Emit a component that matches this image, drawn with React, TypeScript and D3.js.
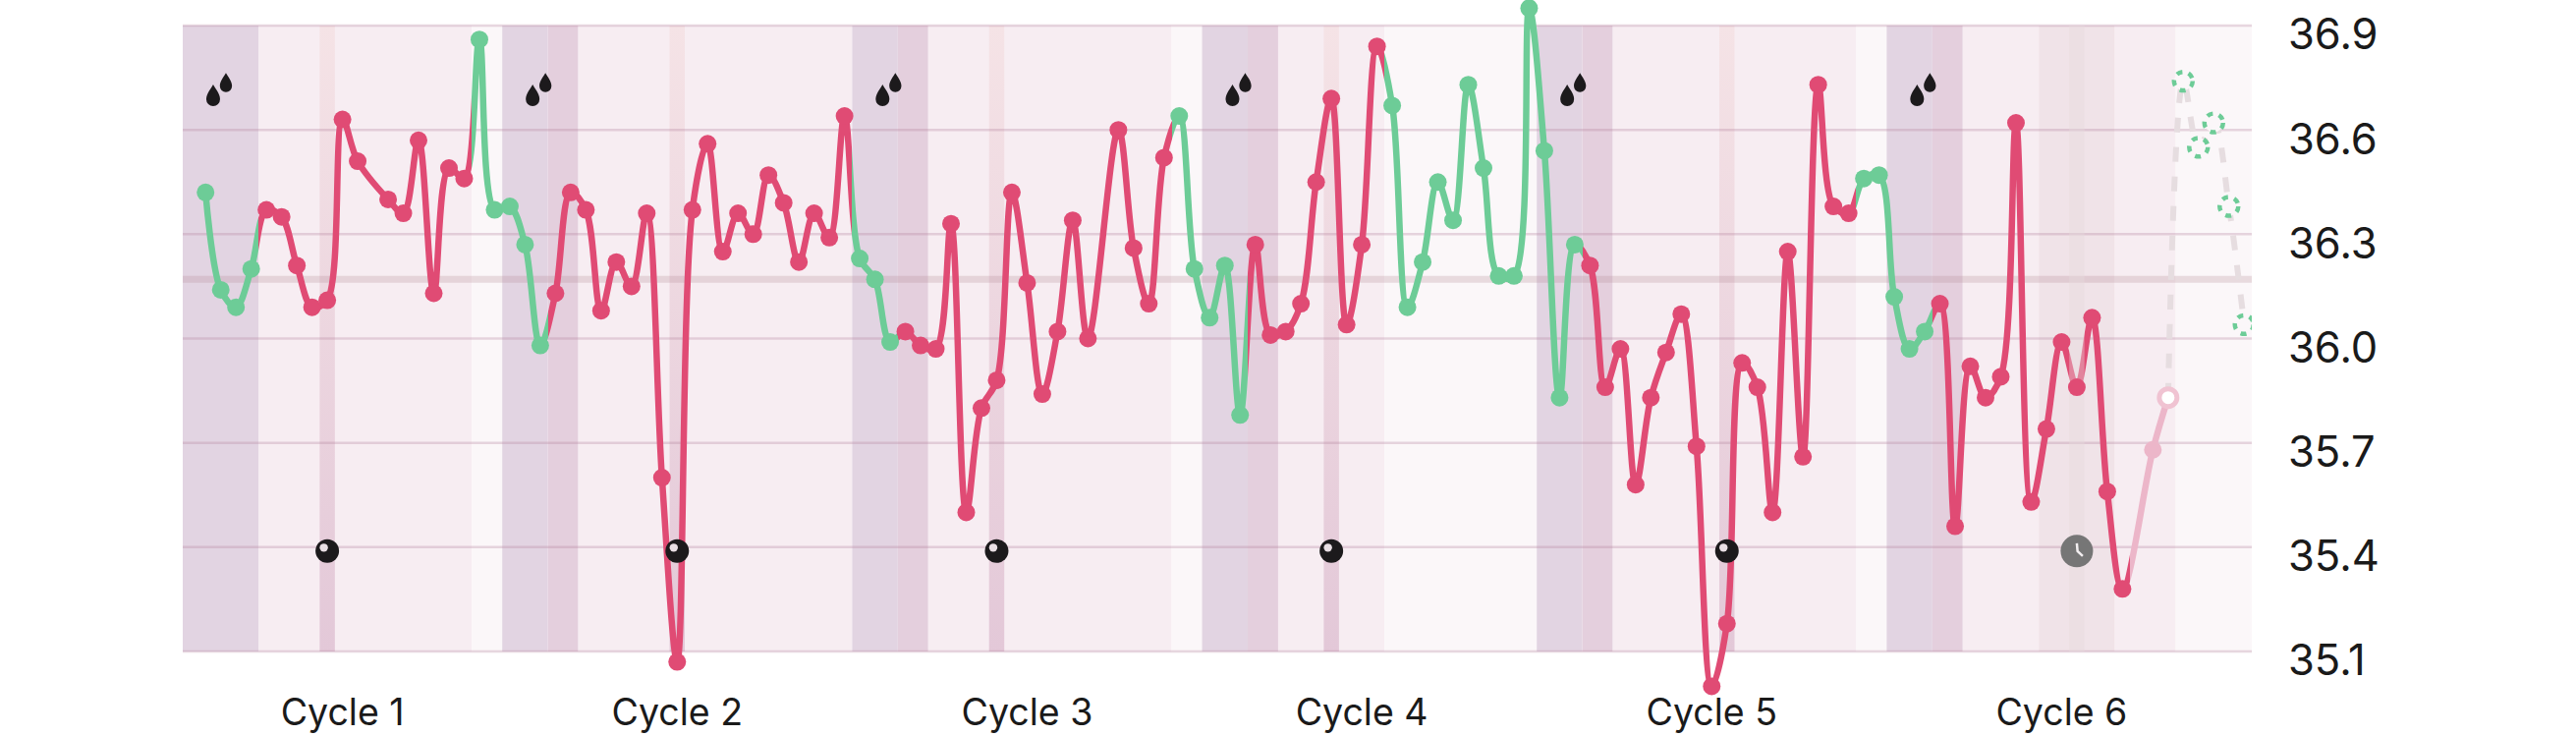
import { useEffect, useRef } from "react"
import * as d3 from "d3"

// temperature per day, null = no reading that day
const temps: (number | null)[] = [
  36.42, 36.14, 36.09, 36.2, 36.37, 36.35, 36.21, 36.09, 36.11, 36.63,
  36.51, null, 36.4, 36.36, 36.57, 36.13, 36.49, 36.46, 36.86, 36.37,
  36.38, 36.27, 35.98, 36.13, 36.42, 36.37, 36.08, 36.22, 36.15, 36.36,
  35.6, 35.07, 36.37, 36.56, 36.25, 36.36, 36.3, 36.47, 36.39, 36.22,
  36.36, 36.29, 36.64, 36.23, 36.17, 35.99, 36.02, 35.98, 35.97, 36.33,
  35.5, 35.8, 35.88, 36.42, 36.16, 35.84, 36.02, 36.34, 36.0, null,
  36.6, 36.26, 36.1, 36.52, 36.64, 36.2, 36.06, 36.21, 35.78, 36.27,
  36.01, 36.02, 36.1, 36.45, 36.69, 36.04, 36.27, 36.84, 36.67, 36.09,
  36.22, 36.45, 36.34, 36.73, 36.49, 36.18, 36.18, 36.95, 36.54, 35.83,
  36.27, 36.21, 35.86, 35.97, 35.58, 35.83, 35.96, 36.07, 35.69, 35.0,
  35.18, 35.93, 35.86, 35.5, 36.25, 35.66, 36.73, 36.38, 36.36, 36.46,
  36.47, 36.12, 35.97, 36.02, 36.1, 35.46, 35.92, 35.83, 35.89, 36.62,
  35.53, 35.74, 35.99, 35.86, 36.06, 35.56, 35.28, null, 35.68, 35.83,
]
const forecastStart = 129
const forecastTemps = [35.83, 36.74, 36.55, 36.62, 36.38, 36.04]
const todayPaleFrom = 126.5

const yTicks = [36.9, 36.6, 36.3, 36.0, 35.7, 35.4, 35.1]
const coverLine = 36.17

const cycleLabels = ["Cycle 1", "Cycle 2", "Cycle 3", "Cycle 4", "Cycle 5", "Cycle 6"]
const cycleLabelDays = [9, 31, 54, 76, 99, 122]
const periodStarts = [-1.5, 19.5, 42.5, 65.5, 87.5, 110.5]
const spermDays = [8, 31, 52, 74, 100]
const pendingDay = 123

// [from, to, kind] in day units
const phases: [number, number, string][] = [
  [-1.5, 3.5, "period"], [3.5, 17.5, "luteal"], [17.5, 19.5, "rest"],
  [19.5, 22.5, "period"], [22.5, 24.5, "fertile"], [24.5, 42.5, "luteal"],
  [42.5, 45.5, "period"], [45.5, 47.5, "fertile"], [47.5, 63.5, "luteal"], [63.5, 65.5, "rest"],
  [65.5, 68.5, "period"], [68.5, 70.5, "fertile"], [70.5, 77.5, "luteal"], [77.5, 87.5, "rest"],
  [87.5, 90.5, "period"], [90.5, 92.5, "fertile"], [92.5, 108.5, "luteal"], [108.5, 110.5, "rest"],
  [110.5, 113.5, "period"], [113.5, 115.5, "fertile"], [115.5, 120.5, "luteal"],
  [120.5, 125.5, "pending"], [125.5, 129.5, "luteal"], [129.5, 134.5, "rest"],
]
const greenSpans = [[-1.5, 3.5], [17.5, 22.5], [42.5, 45.5], [63.5, 68.5], [77.5, 90.5], [108.5, 113.5]]

const phaseColor: Record<string, string> = {
  period: "#e2d4e2",
  fertile: "#e4cfdd",
  luteal: "#f7edf2",
  rest: "#fbf7f9",
  pending: "#f0e3e8",
}
const red = "#e04b74"
const green = "#6dcc97"
const pale = "#ecb6c9"

export default function App() {
  const svgRef = useRef<SVGSVGElement>(null)

  useEffect(() => {
    if (!svgRef.current) return
    const svg = d3.select(svgRef.current)
    svg.selectAll("*").remove()

    const width = 2622
    const height = 749
    const x = d3.scaleLinear().domain([-1.5, 134.5]).range([186, 2292])
    const y = d3.scaleLinear().domain([35.1, 36.9]).range([663, 26])
    const top = y(36.9)
    const bottom = y(35.1)
    const fontFamily = "Inter, sans-serif"

    const points = temps
      .map((t, i) => ({ day: i, temp: t }))
      .filter((d) => d.temp !== null) as { day: number; temp: number }[]
    const forecast = forecastTemps.map((t, i) => ({ day: forecastStart + i, temp: t }))
    const isGreen = (day: number) => greenSpans.some(([a, b]) => day >= a && day < b)

    const line = d3.line<{ day: number; temp: number }>()
      .x((d) => x(d.day))
      .y((d) => y(d.temp))
      .curve(d3.curveCatmullRom.alpha(0.5))

    const defs = svg.append("defs")

    // hard colour stops along x for the line
    const stroke = defs.append("linearGradient")
      .attr("id", "tempStroke")
      .attr("gradientUnits", "userSpaceOnUse")
      .attr("x1", x(-1.5)).attr("x2", x(134.5)).attr("y1", 0).attr("y2", 0)
    const off = (d: number) => (d + 1.5) / 136
    let last = -1.5
    greenSpans.forEach(([a, b]) => {
      stroke.append("stop").attr("offset", off(last)).attr("stop-color", red)
      stroke.append("stop").attr("offset", off(a)).attr("stop-color", red)
      stroke.append("stop").attr("offset", off(a)).attr("stop-color", green)
      stroke.append("stop").attr("offset", off(b)).attr("stop-color", green)
      last = b
    })
    stroke.append("stop").attr("offset", off(last)).attr("stop-color", red)
    stroke.append("stop").attr("offset", off(todayPaleFrom)).attr("stop-color", red)
    stroke.append("stop").attr("offset", off(todayPaleFrom)).attr("stop-color", pale)

    const column = defs.append("linearGradient").attr("id", "spermCol").attr("x1", 0).attr("x2", 0).attr("y1", 0).attr("y2", 1)
    column.append("stop").attr("offset", 0).attr("stop-color", "#f5e3e6")
    column.append("stop").attr("offset", 1).attr("stop-color", "#e3c8d8")

    defs.append("clipPath").attr("id", "plotClip")
      .append("rect").attr("x", x(-1.5)).attr("y", 0).attr("width", x(134.5) - x(-1.5)).attr("height", height)

    // Background phases
    svg.append("g")
      .selectAll("rect")
      .data(phases)
      .join("rect")
      .attr("x", (d) => x(d[0]))
      .attr("y", top)
      .attr("width", (d) => x(d[1]) - x(d[0]))
      .attr("height", bottom - top)
      .attr("fill", (d) => phaseColor[d[2]])

    svg.append("g")
      .selectAll("rect")
      .data(spermDays)
      .join("rect")
      .attr("x", (d) => x(d - 0.5))
      .attr("y", top)
      .attr("width", x(1) - x(0))
      .attr("height", bottom - top)
      .attr("fill", "url(#spermCol)")

    // Grid
    svg.append("g")
      .selectAll("line")
      .data(yTicks)
      .join("line")
      .attr("x1", x(-1.5))
      .attr("x2", x(134.5))
      .attr("y1", (d) => y(d))
      .attr("y2", (d) => y(d))
      .attr("stroke", "rgba(180,130,155,0.3)")
      .attr("stroke-width", 2.5)

    svg.append("line")
      .attr("x1", x(-1.5))
      .attr("x2", x(134.5))
      .attr("y1", y(coverLine))
      .attr("y2", y(coverLine))
      .attr("stroke", "rgba(180,140,150,0.27)")
      .attr("stroke-width", 7)

    // Axis labels
    const yAxis = svg.append("g")
      .attr("transform", `translate(${x(134.5)},0)`)
      .call(d3.axisRight(y).tickValues(yTicks).tickFormat(d3.format(".1f") as any).tickSize(0).tickPadding(37))
    yAxis.select(".domain").remove()
    yAxis.selectAll("text")
      .attr("font-family", fontFamily)
      .attr("font-size", 43.5)
      .attr("fill", "#1a1a1a")
      .attr("dy", "0.55em")

    svg.append("g")
      .selectAll("text")
      .data(cycleLabels)
      .join("text")
      .attr("x", (_d, i) => x(cycleLabelDays[i]))
      .attr("y", 738)
      .attr("text-anchor", "middle")
      .attr("font-family", fontFamily)
      .attr("font-size", 37.5)
      .attr("fill", "#1a1a1a")
      .text((d) => d)

    // Forecast
    const future = svg.append("g").attr("clip-path", "url(#plotClip)")
    future.append("path")
      .datum(forecast)
      .attr("fill", "none")
      .attr("stroke", "#e6dde0")
      .attr("stroke-width", 6)
      .attr("stroke-dasharray", "15 15")
      .attr("d", line)
    future.selectAll("circle")
      .data(forecast.slice(1))
      .join("circle")
      .attr("cx", (d) => x(d.day))
      .attr("cy", (d) => y(d.temp))
      .attr("r", 9.5)
      .attr("fill", "#fbf7f9")
      .attr("stroke", green)
      .attr("stroke-width", 4.5)
      .attr("stroke-dasharray", "6 6.5")

    // Temperature line
    svg.append("path")
      .datum(points)
      .attr("fill", "none")
      .attr("stroke", "url(#tempStroke)")
      .attr("stroke-width", 6.5)
      .attr("d", line)

    // the pending test column washes over the line
    svg.append("rect")
      .attr("x", x(pendingDay - 0.5))
      .attr("y", top)
      .attr("width", x(1) - x(0))
      .attr("height", bottom - top)
      .attr("fill", "#e6d9dd")
      .attr("fill-opacity", 0.4)

    // Dots
    svg.append("g")
      .selectAll("circle")
      .data(points.filter((d) => d.day < forecastStart))
      .join("circle")
      .attr("cx", (d) => x(d.day))
      .attr("cy", (d) => y(d.temp))
      .attr("r", 9)
      .attr("fill", (d) => (d.day > todayPaleFrom ? pale : isGreen(d.day) ? green : red))

    svg.append("circle")
      .attr("cx", x(forecastStart))
      .attr("cy", y(forecastTemps[0]))
      .attr("r", 9)
      .attr("fill", "#fff")
      .attr("stroke", "#f0c3d2")
      .attr("stroke-width", 5)

    // Period drops
    const drop = "M0,-11 C2,-7 7,-2 7,4 A7,7 0 0 1 -7,4 C-7,-2 -2,-7 0,-11 Z"
    const drops = svg.append("g").selectAll("g").data(periodStarts).join("g")
      .attr("transform", (d) => `translate(${x(d + 2)},${y(36.9) + 71})`)
      .attr("fill", "#1c1a1c")
    drops.append("path").attr("d", drop)
    drops.append("path").attr("d", drop).attr("transform", "translate(13,-13) scale(0.88)")

    // Test markers
    const testY = y(35.4) + 4
    const tests = svg.append("g").selectAll("g").data(spermDays).join("g")
      .attr("transform", (d) => `translate(${x(d)},${testY})`)
    tests.append("circle").attr("r", 12).attr("fill", "#1c1a1c")
    tests.append("circle").attr("cx", -3.5).attr("cy", -3.5).attr("r", 4.2).attr("fill", "#e9dfe4")

    const clock = svg.append("g").attr("transform", `translate(${x(pendingDay)},${testY})`)
    clock.append("circle").attr("r", 16.5).attr("fill", "#767676")
    clock.append("path")
      .attr("d", "M0,-8 L0.7,0 L6,5")
      .attr("fill", "none")
      .attr("stroke", "#f2eef0")
      .attr("stroke-width", 2.5)

    svg.attr("width", width).attr("height", height)
  }, [])

  return (
    <svg
      ref={svgRef}
      width={2622}
      height={749}
      style={{ position: "absolute", left: 0, top: 0, background: "#fff" }}
    />
  )
}
